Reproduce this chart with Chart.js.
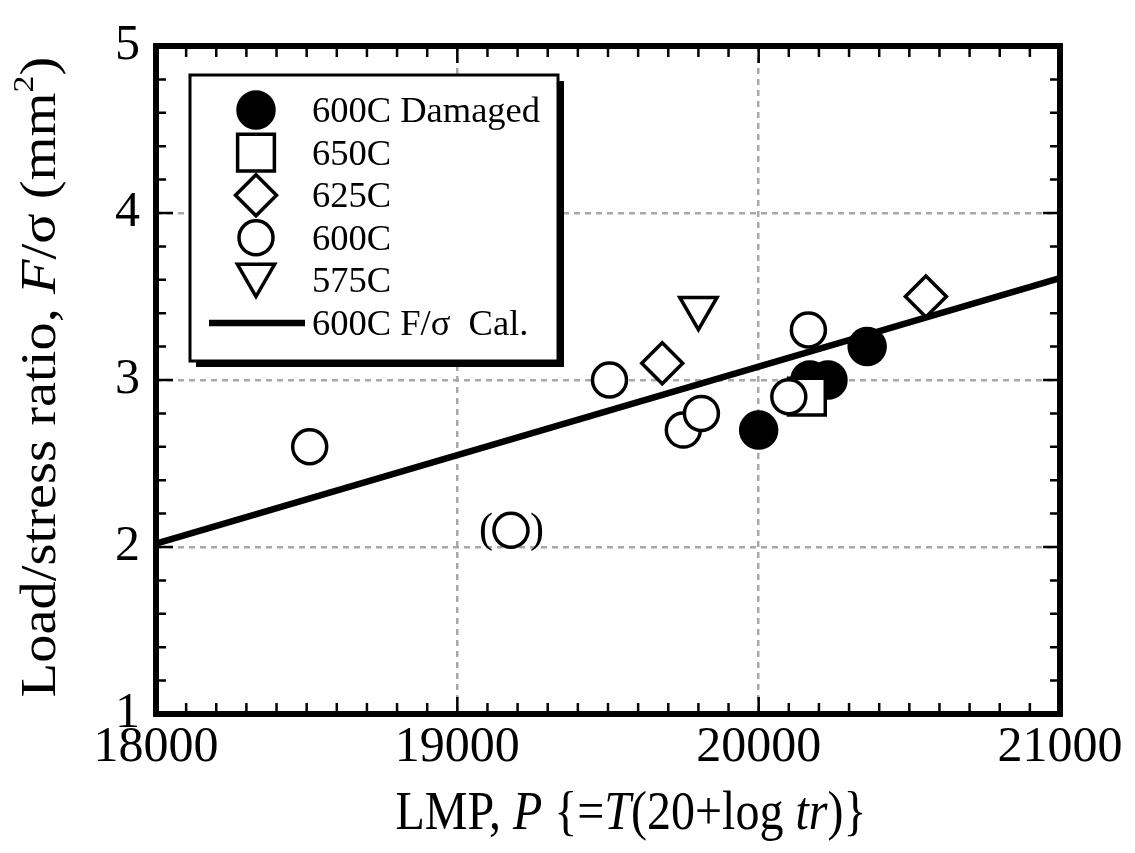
<!DOCTYPE html>
<html>
<head>
<meta charset="utf-8">
<script src="https://cdn.jsdelivr.net/npm/chart.js@4.4.1/dist/chart.umd.min.js"></script>
<style>
  html, body { margin: 0; padding: 0; background: #fff; }
  #wrap { width: 1135px; height: 853px; }
</style>
</head>
<body>
<div id="wrap"><canvas id="myChart" width="1135" height="853"></canvas></div>
<script>
// series labels and values
const seriesLabels = ['600C Damaged', '650C', '625C', '600C', '575C', '600C F/\u03c3  Cal.'];

const damagedX = [20000, 20170, 20230, 20360];
const damagedY = [2.7, 3.0, 3.0, 3.2];
const t650X = [20160];
const t650Y = [2.9];
const t625X = [19680, 20555];
const t625Y = [3.1, 3.5];
const t600X = [18510, 19505, 19750, 19810, 20100, 20165, 19178];
const t600Y = [2.6, 3.0, 2.7, 2.8, 2.9, 3.3, 2.1];
const t575X = [19800];
const t575Y = [3.43];
const calX = [18000, 19000, 20000, 21000];
const calY = [2.02, 2.55, 3.08, 3.61];

const xTicks = [18000, 19000, 20000, 21000];
const yTicks = [1, 2, 3, 4, 5];
const bracketedIndex = 6; // the "(O)" point of the 600C series

const serif = '"Liberation Serif", "Times New Roman", serif';

function pts(xs, ys) {
    return xs.map((x, i) => ({ x: x, y: ys[i] }));
}

// frame, inner ticks, titles, legend box
const decorPlugin = {
    id: 'decor',
    afterDraw(chart) {
        const ctx = chart.ctx;
        const a = chart.chartArea;
        const xs = chart.scales.x;
        const ys = chart.scales.y;

        ctx.save();
        // parentheses round the bracketed point
        const p = chart.getDatasetMeta(3).data[bracketedIndex];
        ctx.fillStyle = '#000';
        ctx.font = '42px ' + serif;
        ctx.textAlign = 'center';
        ctx.textBaseline = 'alphabetic';
        ctx.fillText('(', p.x - 25, p.y + 12);
        ctx.fillText(')', p.x + 26, p.y + 12);

        // inner ticks
        ctx.strokeStyle = '#000';
        ctx.lineWidth = 2.5;
        ctx.beginPath();
        for (let k = 1; k < 30; k++) {
            const v = 18000 + k * 100;
            const px = xs.getPixelForValue(v);
            const len = (k % 10 === 0) ? 17 : 11;
            ctx.moveTo(px, a.bottom); ctx.lineTo(px, a.bottom - len);
            ctx.moveTo(px, a.top); ctx.lineTo(px, a.top + len);
        }
        for (let k = 1; k < 20; k++) {
            const v = 1 + k * 0.2;
            const py = ys.getPixelForValue(v);
            const len = (k % 5 === 0) ? 17 : 10;
            ctx.moveTo(a.left, py); ctx.lineTo(a.left + len, py);
            ctx.moveTo(a.right, py); ctx.lineTo(a.right - len, py);
        }
        ctx.stroke();

        // heavy frame
        ctx.lineWidth = 6;
        ctx.strokeRect(a.left, a.top, a.right - a.left, a.bottom - a.top);

        // x title
        ctx.textAlign = 'left';
        ctx.save();
        ctx.translate((a.left + a.right) / 2 + 23, 829);
        ctx.scale(1, 1.15);
        drawRich(ctx, [
            { text: 'LMP, ', font: '48px ' + serif },
            { text: 'P', font: 'italic 48px ' + serif },
            { text: ' {=', font: '48px ' + serif },
            { text: 'T', font: 'italic 48px ' + serif },
            { text: '(20+log ', font: '48px ' + serif },
            { text: 'tr', font: 'italic 48px ' + serif },
            { text: ')}', font: '48px ' + serif }
        ]);
        ctx.restore();

        // y title
        ctx.save();
        ctx.translate(55, (a.top + a.bottom) / 2 - 3);
        ctx.rotate(-Math.PI / 2);
        ctx.scale(1.13, 1);
        drawRich(ctx, [
            { text: 'Load/stress ratio, ', font: '50px ' + serif },
            { text: 'F', font: 'italic 50px ' + serif },
            { text: '/\u03c3 (mm', font: '50px ' + serif },
            { text: '2', font: '30px ' + serif, dy: -22 },
            { text: ')', font: '50px ' + serif }
        ]);
        ctx.restore();

        // legend box with drop shadow
        const bx = a.left + 34, by = a.top + 29, bw = 368, bh = 286;
        ctx.fillStyle = '#000';
        ctx.fillRect(bx + 6, by + 6, bw, bh);
        ctx.fillStyle = '#fff';
        ctx.fillRect(bx, by, bw, bh);
        ctx.lineWidth = 3;
        ctx.strokeStyle = '#000';
        ctx.strokeRect(bx, by, bw, bh);

        chart.data.datasets.forEach((ds, i) => {
            const cy = by + 35 + i * 42.6;
            const mx = bx + 66;
            if (ds.showLine) {
                ctx.lineWidth = ds.borderWidth;
                ctx.strokeStyle = ds.borderColor;
                ctx.beginPath();
                ctx.moveTo(bx + 19, cy);
                ctx.lineTo(bx + 115, cy);
                ctx.stroke();
            } else {
                ctx.fillStyle = ds.pointBackgroundColor;
                ctx.strokeStyle = ds.pointBorderColor;
                ctx.lineWidth = ds.pointBorderWidth;
                const off = ds.pointStyle === 'triangle' ? -ds.pointRadius / 4 : 0;
                Chart.helpers.drawPoint(ctx, {
                    pointStyle: ds.pointStyle,
                    rotation: ds.pointRotation || 0,
                    radius: ds.pointRadius,
                    borderWidth: ds.pointBorderWidth
                }, mx, cy + off);
            }
            ctx.fillStyle = '#000';
            ctx.font = '36.5px ' + serif;
            ctx.textBaseline = 'alphabetic';
            ctx.fillText(ds.label, bx + 122, cy + 12);
        });
        ctx.restore();
    }
};

function drawRich(ctx, segs) {
    let total = 0;
    segs.forEach(s => { ctx.font = s.font; s.w = ctx.measureText(s.text).width; total += s.w; });
    let x = -total / 2;
    ctx.fillStyle = '#000';
    ctx.textBaseline = 'alphabetic';
    segs.forEach(s => {
        ctx.font = s.font;
        ctx.fillText(s.text, x, s.dy || 0);
        x += s.w;
    });
}

function markerSet(label, data, style, radius, fill, order, rotation) {
    return {
        label: label,
        data: data,
        pointStyle: style,
        pointRadius: radius,
        pointHoverRadius: radius,
        pointRotation: rotation || 0,
        pointBackgroundColor: fill,
        pointBorderColor: '#000',
        pointBorderWidth: 3.5,
        showLine: false,
        order: order
    };
}

const ctx = document.getElementById('myChart').getContext('2d');
const myChart = new Chart(ctx, {
    type: 'scatter',
    data: {
        datasets: [
            markerSet(seriesLabels[0], pts(damagedX, damagedY), 'circle', 18, '#000', 5),
            markerSet(seriesLabels[1], pts(t650X, t650Y), 'rect', 26, '#fff', 4),
            markerSet(seriesLabels[2], pts(t625X, t625Y), 'rectRot', 20.5, '#fff', 3),
            markerSet(seriesLabels[3], pts(t600X, t600Y), 'circle', 17, '#fff', 2),
            markerSet(seriesLabels[4], pts(t575X, t575Y), 'triangle', 21.5, '#fff', 3, 180),
            {
                label: seriesLabels[5],
                data: pts(calX, calY),
                showLine: true,
                borderColor: '#000',
                borderWidth: 6.5,
                pointRadius: 0,
                pointHoverRadius: 0,
                fill: false,
                order: 6
            }
        ]
    },
    options: {
        responsive: false,
        animation: false,
        devicePixelRatio: 1,
        layout: { padding: { top: 36, right: 75, left: 0, bottom: 0 } },
        plugins: {
            legend: { display: false },
            tooltip: { enabled: false }
        },
        scales: {
            x: {
                type: 'linear',
                min: 18000,
                max: 21000,
                afterBuildTicks: s => { s.ticks = xTicks.map(v => ({ value: v })); },
                afterFit: s => { s.height = 139; },
                ticks: {
                    color: '#000',
                    padding: 4,
                    font: { family: serif, size: 50 },
                    callback: v => String(v)
                },
                grid: { color: '#a8a8a8', lineWidth: 2.5, drawTicks: false },
                border: { display: false, dash: [6, 5] }
            },
            y: {
                min: 1,
                max: 5,
                afterBuildTicks: s => { s.ticks = yTicks.map(v => ({ value: v })); },
                afterFit: s => { s.width = 156; },
                ticks: {
                    color: '#000',
                    padding: 16,
                    font: { family: serif, size: 50 },
                    callback: v => String(v)
                },
                grid: { color: '#a8a8a8', lineWidth: 2.5, drawTicks: false },
                border: { display: false, dash: [6, 5] }
            }
        }
    },
    plugins: [decorPlugin]
});
</script>
</body>
</html>
